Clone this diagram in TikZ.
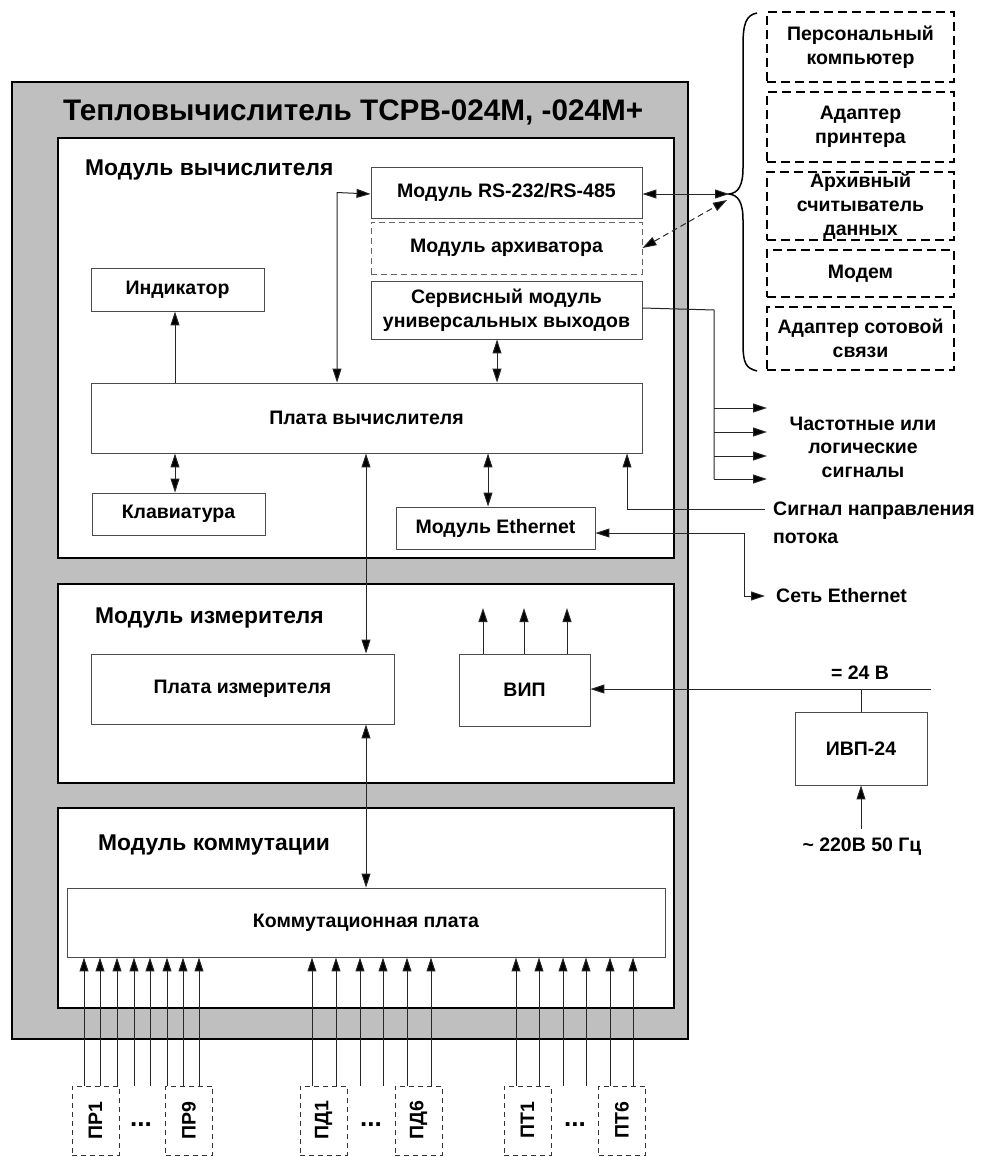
\documentclass[tikz,border=0pt]{standalone}
\usepackage{fontspec}
\setmainfont{Liberation Sans}
\usetikzlibrary{arrows.meta}
\newcommand{\fblk}{\fontsize{19.5}{24}\selectfont\bfseries}
\newcommand{\fmod}{\fontsize{22.8}{26}\selectfont\bfseries}
\newcommand{\ftitle}{\fontsize{29.7}{33}\selectfont\bfseries}
\begin{document}
\begin{tikzpicture}[x=1pt,y=-1pt,
  blk/.style={draw=black!70, line width=0.9pt, fill=white, inner sep=0pt, font=\fblk, align=center},
  dblk/.style={blk, draw=black!60, dash pattern=on 6pt off 4pt},
  extbox/.style={draw=black, line width=1.5pt, dash pattern=on 9pt off 5pt, inner sep=0pt, font=\fblk, align=center, minimum width=187pt},
  inbox/.style={draw=black!80, line width=0.9pt, dash pattern=on 5pt off 4pt, inner sep=0pt, font=\fblk, minimum width=47pt, minimum height=69pt},
  modbox/.style={draw=black, line width=2pt, fill=white},
  conn/.style={draw=black!85, line width=1pt},
  tip/.tip={Triangle[length=14pt,width=9pt,fill=black]},
  arr/.style={conn, -tip},
  darr/.style={conn, tip-tip},
  lbl/.style={font=\fblk, inner sep=0pt, align=center}
]
\useasboundingbox (0,0) rectangle (981,1157);
\fill[white] (0,0) rectangle (981,1157);

% outer gray box and modules
\draw[line width=1.5pt, fill=black!25] (12,82) rectangle (688,1039);
\node[font=\ftitle, anchor=west, inner sep=0pt] (title) at (63,112) {Тепловычислитель ТСРВ-024М, -024М+};
\draw[modbox] (58,138) rectangle (674,558);
\draw[modbox] (58,584) rectangle (674,783);
\draw[modbox] (58,808) rectangle (674,1008);
\node[font=\fmod, anchor=west, inner sep=0pt] (m1) at (85,170) {Модуль вычислителя};
\node[font=\fmod, anchor=west, inner sep=0pt] (m2) at (95,618) {Модуль измерителя};
\node[font=\fmod, anchor=west, inner sep=0pt] (m3) at (98,845) {Модуль коммутации};

% blocks
\node[blk, minimum width=173pt, minimum height=43pt] (ind) at (177.5,289.5) {Индикатор};
\node[blk, minimum width=551pt, minimum height=70pt] (pv) at (366.5,418) {Плата вычислителя};
\node[blk, minimum width=173pt, minimum height=42pt] (kl) at (178.5,514) {Клавиатура};
\node[blk, minimum width=271pt, minimum height=51pt] (rs) at (506.5,192.5) {Модуль RS-232/RS-485};
\node[dblk, minimum width=271pt, minimum height=52pt] (arch) at (506.5,248) {Модуль архиватора};
\node[blk, minimum width=271pt, minimum height=58pt] (serv) at (506.5,310) {Сервисный модуль\\универсальных выходов};
\node[blk, minimum width=199pt, minimum height=42pt] (eth) at (495.5,528) {Модуль Ethernet};
\node[blk, minimum width=303pt, minimum height=70pt] (pi) at (242.5,689) {Плата измерителя};
\node[blk, minimum width=131pt, minimum height=72pt] (vip) at (524.5,690) {ВИП};
\node[blk, minimum width=598pt, minimum height=69pt] (kp) at (366,922.5) {Коммутационная плата};
\node[blk, minimum width=132pt, minimum height=73pt] (ivp) at (861,748.5) {ИВП-24};

% external dashed boxes
\node[extbox, minimum height=70pt] (pc) at (860.5,47) {Персональный\\компьютер};
\node[extbox, minimum height=70pt] (pa) at (860.5,127) {Адаптер\\принтера};
\node[extbox, minimum height=68pt] (ar) at (860.5,206) {Архивный\\считыватель\\данных};
\node[extbox, minimum height=47pt] (mo) at (860.5,273.5) {Модем};
\node[extbox, minimum height=63pt] (ce) at (860.5,338.5) {Адаптер сотовой\\связи};

% brace
\coordinate (bt) at (729,194);
\coordinate (bt2) at (727,200);
\draw[line width=1.5pt] (757,13) .. controls (746,15) and (743,24) .. (743,45) -- (743,168)
  .. controls (743,186) and (738,193) .. (bt) .. controls (738,195) and (743,202) .. (743,220)
  -- (743,343) .. controls (743,364) and (746,368) .. (757,371);

% helper x coordinates
\coordinate (xa) at (175,0);
\coordinate (xb) at (337,0);
\coordinate (xc) at (497,0);
\coordinate (xd) at (488,0);
\coordinate (xe) at (366,0);
\coordinate (xf) at (627,0);
\coordinate (xs) at (714,0);
\coordinate (xg) at (744,0);
\coordinate (xv) at (861,0);

% connectors in computing module
\draw[arr] (xa |- pv.north) -- (xa |- ind.south);
\draw[darr] (xa |- pv.south) -- (xa |- kl.north);
\draw[darr] (xb |- pv.north) -- (xb |- rs.west) -- (rs.west |- 0,194);
\draw[darr] (xc |- serv.south) -- (xc |- pv.north);
\draw[darr] (xd |- pv.south) -- (xd |- eth.north);
\draw[darr] (xe |- pv.south) -- (xe |- pi.north);
\draw[darr] (xe |- pi.south) -- (xe |- kp.north);

% external links
\draw[darr] (rs.east |- bt) -- (bt);
\draw[darr, dash pattern=on 6pt off 4pt] (arch.east) -- (bt2);

% service outputs
\coordinate (sb) at (714,479);
\draw[conn] (serv.east |- 0,308) -- (xs |- serv.east) -- (sb);
\coordinate (s1) at (767,408);
\coordinate (s2) at (767,432);
\coordinate (s3) at (767,456);
\coordinate (s4) at (767,479);
\draw[arr] (xs |- s1) -- (s1);
\draw[arr] (xs |- s2) -- (s2);
\draw[arr] (xs |- s3) -- (s3);
\draw[arr] (sb) -- (s4);
\node[lbl, font=\fontsize{19.5}{23.5}\selectfont\bfseries] (sig) at (863,447) {Частотные или\\логические\\сигналы};

% flow direction signal
\coordinate (sd) at (765,509);
\draw[arr] (sd) -- (xf |- sd) -- (xf |- pv.south);
\node[lbl, anchor=west, align=left, font=\fontsize{19.5}{28}\selectfont\bfseries] (sdl) at (773,523) {Сигнал направления\\потока};

% ethernet
\coordinate (en) at (765,596);
\draw[darr] (eth.east |- 0,533) -- (xg |- 0,533) -- (xg |- en) -- (en);
\node[lbl, anchor=west] (enl) at (776,596) {Сеть Ethernet};

% power
\coordinate (pw) at (931,689);
\draw[arr] (pw) -- (vip.east |- pw);
\draw[conn] (xv |- pw) -- (ivp.north);
\node[lbl] (v24) at (860,673) {= 24 В};
\coordinate (ac) at (861,829);
\draw[arr] (ac) -- (ivp.south);
\node[lbl] (acl) at (862,847) {\textasciitilde{} 220В 50 Гц};

% VIP outputs
\foreach \x/\n in {483/a,524/b,567/c}{
  \coordinate (vo\n) at (\x,608);
  \draw[arr] (\x,654) -- (vo\n);
}

% input sensors
\node[inbox] (pr1) at (95.5,1120.5) {\rotatebox{90}{ПР1}};
\node[inbox] (pr9) at (189,1120.5) {\rotatebox{90}{ПР9}};
\node[inbox] (pd1) at (323.5,1120.5) {\rotatebox{90}{ПД1}};
\node[inbox] (pd6) at (418.5,1120.5) {\rotatebox{90}{ПД6}};
\node[inbox] (pt1) at (527.5,1120.5) {\rotatebox{90}{ПТ1}};
\node[inbox] (pt6) at (622,1120.5) {\rotatebox{90}{ПТ6}};
\node[font=\fontsize{26}{26}\selectfont\bfseries, inner sep=0pt, anchor=base] (d1) at (141,1126) {...};
\node[font=\fontsize{26}{26}\selectfont\bfseries, inner sep=0pt, anchor=base] (d2) at (371,1126) {...};
\node[font=\fontsize{26}{26}\selectfont\bfseries, inner sep=0pt, anchor=base] (d3) at (575,1126) {...};
\foreach \x [count=\i] in {84,100,117,134,150,167,183,199,312,336,360,383,407,431,516,539,563,586,610,633}{
  \coordinate (in\i) at (\x,1086);
  \draw[arr] (in\i) -- (in\i |- kp.south);
}
\end{tikzpicture}
\end{document}
